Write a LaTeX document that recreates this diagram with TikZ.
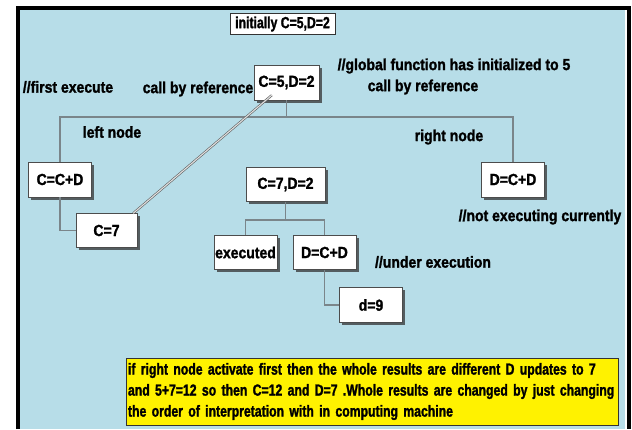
\documentclass[tikz,border=0pt]{standalone}
\usepackage{fontspec}
\setmainfont{Liberation Sans}[FakeStretch=0.875, BoldFeatures={FakeBold=1.5}]
\newfontfamily\notefont{Liberation Sans}[FakeStretch=0.765, BoldFeatures={FakeBold=1.5}]
\usetikzlibrary{positioning,shadows}
\definecolor{slideblue}{RGB}{183,221,232}
\definecolor{linkgray}{RGB}{122,133,138}
\tikzset{
	stepbox/.style={draw=gray!60!black, line width=0.4pt, fill=white, inner sep=1pt,
		minimum width=63pt, minimum height=34pt,
		drop shadow={shadow xshift=2.5pt, shadow yshift=-2.5pt, fill=black!80, opacity=0.75}},
	initbox/.style={draw=black!80, line width=0.5pt, fill=white, inner sep=1pt,
		minimum width=105pt, minimum height=21pt, font=\fontsize{16}{18}\notefont\bfseries},
	notebox/.style={draw=black!80, line width=0.6pt, fill=yellow, text width=488pt,
		align=left, inner xsep=2pt, inner ysep=1pt, minimum height=67pt,
		font=\fontsize{16}{21}\notefont\bfseries},
	remark/.style={inner sep=0pt},
	conn/.style={linkgray, line width=1.6pt},
	reflink/.style={draw=gray!75!black, double=gray!25, double distance=1.1pt, line width=0.6pt},
}
\begin{document}
\begin{tikzpicture}[x=1pt,y=-1pt,font=\fontsize{16}{18}\selectfont\bfseries]
\useasboundingbox (0,0) rectangle (632,429);
\fill[white] (0,0) rectangle (632,429);
\fill[slideblue] (20,10) rectangle (625,429);% slide
\draw[line width=4pt] (18,429) -- (18,8) -- (629,8) -- (629,429);% frame

\node[initbox] (init) at (282.5,24) {initially C=5,D=2};

\node[stepbox, minimum width=65pt, minimum height=35pt] (root) at (286.5,82.5) {C=5,D=2};
\node[stepbox, minimum height=35pt] (cadd) at (60,179.5) {C=C+D};
\node[stepbox, minimum width=61pt] (cseven) at (106.5,230.5) {C=7};
\node[stepbox, minimum width=79pt] (cstate) at (285.5,184.5) {C=7,D=2};
\node[stepbox] (done) at (245.5,252.5) {executed};
\node[stepbox] (dadd) at (324.5,252.5) {D=C+D};
\node[stepbox, minimum height=35pt] (dnine) at (371,305) {d=9};
\node[stepbox, minimum height=35pt] (dright) at (513,179.5) {D=C+D};

% comments round the tree
\node[remark] (first) at (68,87) {//first execute};
\node[remark] (refleft) at (198,89) {call by reference};
\node[remark] (global) at (454,66) {//global function has initialized to 5};
\node[remark] (refright) at (423,87) {call by reference};
\node[remark] (lefttag) at (112,132) {left node};
\node[remark] (righttag) at (449,137) {right node};
\node[remark] (idle) at (540,217) {//not executing currently};
\node[remark] (running) at (433,262) {//under execution};

\node[notebox] (note) at (372,391.5) {\mbox{if right node activate first then the whole results are different D updates to 7}\\
\mbox{and 5+7=12 so then C=12 and D=7 .Whole results are changed by just changing}\\
\mbox{the order of interpretation with in computing machine}};

% tree links
\draw[conn] (root.south) -- ++(0,17) coordinate (fork) -| (cadd.north);
\draw[conn] (fork) -| (dright.north);
\draw[conn] (cadd.south) |- (cseven.west);
\draw[conn] (cstate.south) -- ++(0,18) coordinate (split) -| (done.north);
\draw[conn] (split) -| (dadd.north);
\draw[conn] (dadd.south) |- (dnine.west);

% reference link
\path (root.south west) ++(18,-5) coordinate (refend);
\draw[reflink] (cseven.north east) ++(-4,0) -- (refend);

\end{tikzpicture}
\end{document}
